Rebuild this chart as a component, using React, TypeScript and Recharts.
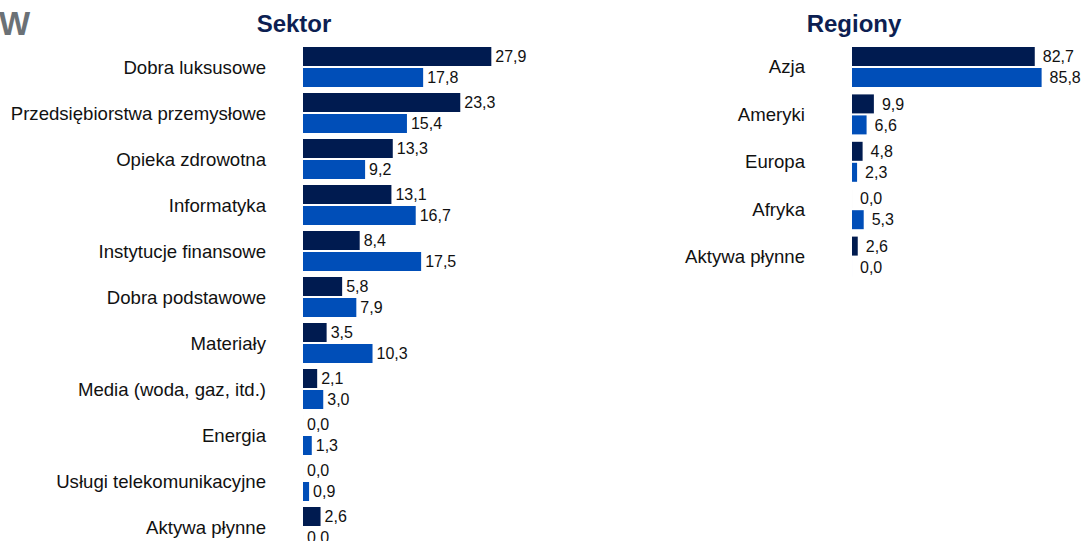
import { BarChart, Bar, XAxis, YAxis, LabelList } from "recharts";

const sectors = [
  "Dobra luksusowe",
  "Przedsiębiorstwa przemysłowe",
  "Opieka zdrowotna",
  "Informatyka",
  "Instytucje finansowe",
  "Dobra podstawowe",
  "Materiały",
  "Media (woda, gaz, itd.)",
  "Energia",
  "Usługi telekomunikacyjne",
  "Aktywa płynne",
];
const sectorFund = [27.9, 23.3, 13.3, 13.1, 8.4, 5.8, 3.5, 2.1, 0.0, 0.0, 2.6];
const sectorIndex = [17.8, 15.4, 9.2, 16.7, 17.5, 7.9, 10.3, 3.0, 1.3, 0.9, 0.0];

const regions = ["Azja", "Ameryki", "Europa", "Afryka", "Aktywa płynne"];
const regionFund = [82.7, 9.9, 4.8, 0.0, 2.6];
const regionIndex = [85.8, 6.6, 2.3, 5.3, 0.0];

const DARK = "#001B50";
const BLUE = "#004EB8";
const FONT = '"Liberation Sans", Arial, sans-serif';

const fmt = (v: unknown) => Number(v ?? 0).toFixed(1).replace(".", ",");

const sectorData = sectors.map((name, i) => ({
  name,
  fund: sectorFund[i],
  index: sectorIndex[i],
}));
const regionData = regions.map((name, i) => ({
  name,
  fund: regionFund[i],
  index: regionIndex[i],
}));

const tickStyle = { fontSize: 18.6, fill: "#111", fontFamily: FONT };
const labelStyle = { fontSize: 16, fill: "#111", fontFamily: FONT };

function Title({ text, center }: { text: string; center: number }) {
  return (
    <div
      style={{
        position: "absolute",
        top: 10,
        left: center - 100,
        width: 200,
        textAlign: "center",
        fontFamily: FONT,
        fontWeight: "bold",
        fontSize: 24,
        color: "#0D1F52",
        lineHeight: "28px",
      }}
    >
      {text}
    </div>
  );
}

export default function App() {
  return (
    <div
      style={{
        position: "absolute",
        left: 0,
        top: 0,
        width: 1082,
        height: 541,
        overflow: "hidden",
        background: "#fff",
      }}
    >
      <div
        style={{
          position: "absolute",
          left: -1,
          top: 5,
          fontFamily: FONT,
          fontWeight: "bold",
          fontSize: 33,
          color: "#6B7176",
          lineHeight: "38px",
        }}
      >
        W
      </div>
      <Title text="Sektor" center={294} />
      <Title text="Regiony" center={854} />

      <div style={{ position: "absolute", left: 0, top: 0 }}>
        <BarChart
          width={580}
          height={560}
          data={sectorData}
          layout="vertical"
          margin={{ top: 44, right: 7, bottom: 10, left: 0 }}
          barSize={19}
          barGap={2}
        >
          <XAxis type="number" domain={[0, 40]} hide />
          <YAxis
            type="category"
            dataKey="name"
            width={303}
            axisLine={false}
            tickLine={false}
            tickSize={0}
            tickMargin={37}
            interval={0}
            tick={tickStyle}
          />
          <Bar dataKey="fund" fill={DARK} minPointSize={0.01} isAnimationActive={false}>
            <LabelList dataKey="fund" position="right" offset={4} formatter={fmt} style={labelStyle} />
          </Bar>
          <Bar dataKey="index" fill={BLUE} minPointSize={0.01} isAnimationActive={false}>
            <LabelList dataKey="index" position="right" offset={4} formatter={fmt} style={labelStyle} />
          </Bar>
        </BarChart>
      </div>

      <div style={{ position: "absolute", left: 560, top: 0 }}>
        <BarChart
          width={522}
          height={300}
          data={regionData}
          layout="vertical"
          margin={{ top: 43, right: 9, bottom: 20, left: 0 }}
          barSize={19}
          barGap={2}
        >
          <XAxis type="number" domain={[0, 100]} hide />
          <YAxis
            type="category"
            dataKey="name"
            width={292}
            axisLine={false}
            tickLine={false}
            tickSize={0}
            tickMargin={47}
            interval={0}
            tick={tickStyle}
          />
          <Bar dataKey="fund" fill={DARK} minPointSize={0.01} isAnimationActive={false}>
            <LabelList dataKey="fund" position="right" offset={8} formatter={fmt} style={labelStyle} />
          </Bar>
          <Bar dataKey="index" fill={BLUE} minPointSize={0.01} isAnimationActive={false}>
            <LabelList dataKey="index" position="right" offset={8} formatter={fmt} style={labelStyle} />
          </Bar>
        </BarChart>
      </div>
    </div>
  );
}
